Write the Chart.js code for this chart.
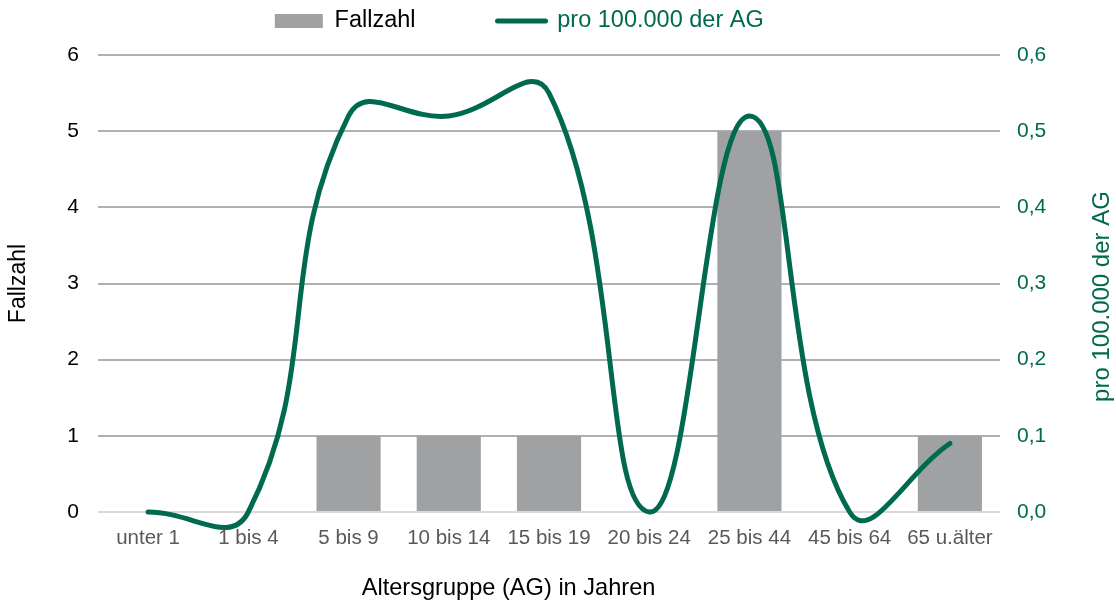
<!DOCTYPE html>
<html><head><meta charset="utf-8">
<script src="https://cdn.jsdelivr.net/npm/chart.js@4.4.1/dist/chart.umd.min.js"></script>
<style>html,body{margin:0;padding:0;background:#fff;overflow:hidden}#wrap{width:1116px;height:605px}</style>
</head><body><div id="wrap"><canvas id="c" width="1116" height="605"></canvas></div>
<script>
const categories = ['unter 1', '1 bis 4', '5 bis 9', '10 bis 14', '15 bis 19', '20 bis 24', '25 bis 44', '45 bis 64', '65 u.älter'];
const fallzahl = [0, 0, 1, 1, 1, 0, 5, 0, 1];
const pro100k = [0, 0, 0.52, 0.52, 0.55, 0, 0.52, 0, 0.09];
const leftTickLabels = ['0', '1', '2', '3', '4', '5', '6'];
const rightTickLabels = ['0,0', '0,1', '0,2', '0,3', '0,4', '0,5', '0,6'];
const seriesNames = ['Fallzahl', 'pro 100.000 der AG'];
const xTitle = 'Altersgruppe (AG) in Jahren';
const leftTitle = 'Fallzahl';
const rightTitle = 'pro 100.000 der AG';

const FONT = '"Liberation Sans", Arial, sans-serif';
const GREEN = '#006A4E';
const GREY_BAR = '#A0A1A3';

const axisTitles = {
  id: 'axisTitles',
  afterDraw(chart) {
    const ctx = chart.ctx;
    const W = chart.width, H = chart.height;
    ctx.save();
    ctx.textAlign = 'center';
    ctx.textBaseline = 'middle';
    ctx.fillStyle = '#000';
    ctx.font = '23.6px ' + FONT;
    ctx.fillText(xTitle, W * 0.4557, H - 17);
    ctx.translate(W - 14, (chart.chartArea.top + chart.chartArea.bottom) / 2 + 13);
    ctx.rotate(-Math.PI / 2);
    ctx.fillStyle = GREEN;
    ctx.font = '24px ' + FONT;
    ctx.fillText(rightTitle, 0, 0);
    ctx.restore();
  }
};

new Chart(document.getElementById('c'), {
  data: {
    labels: categories,
    datasets: [
      {
        type: 'bar', label: seriesNames[0], data: fallzahl, yAxisID: 'y',
        backgroundColor: GREY_BAR, borderWidth: 0,
        categoryPercentage: 1, barPercentage: 0.64, order: 1
      },
      {
        type: 'line', label: seriesNames[1], data: pro100k, yAxisID: 'y1',
        borderColor: GREEN, backgroundColor: GREEN, borderWidth: 5,
        pointRadius: 0, pointHoverRadius: 0, tension: 0.45, clip: false,
        borderCapStyle: 'round', borderJoinStyle: 'round', order: 0
      }
    ]
  },
  options: {
    responsive: false,
    animation: false,
    devicePixelRatio: 1,
    layout: { padding: { top: -72.75, left: -77.5, right: 0, bottom: 0 } },
    elements: { line: { capBezierPoints: false } },
    plugins: {
      tooltip: { enabled: false },
      title: { display: true, text: '', position: 'top', weight: 500, padding: 0, font: { size: 12.25, lineHeight: 1 } },
      legend: {
        display: true, position: 'top', align: 'center',
        labels: {
          usePointStyle: true, pointStyleWidth: 48, boxHeight: 14, padding: 82,
          font: { size: 23.5, family: FONT },
          generateLabels(chart) {
            return chart.data.datasets.map((ds, i) => ({
              text: ds.label,
              fillStyle: ds.type === 'line' ? ds.borderColor : ds.backgroundColor,
              strokeStyle: ds.type === 'line' ? ds.borderColor : ds.backgroundColor,
              lineWidth: ds.type === 'line' ? 5 : 0,
              lineCap: 'round',
              pointStyle: ds.type === 'line' ? 'line' : 'rect',
              fontColor: ds.type === 'line' ? GREEN : '#000',
              hidden: false,
              datasetIndex: i
            }));
          }
        }
      }
    },
    scales: {
      x: {
        type: 'category',
        offset: true,
        grid: { display: false, drawTicks: false },
        border: { display: false },
        ticks: { color: '#595959', font: { size: 20.5, family: FONT }, padding: 14, maxRotation: 0, autoSkip: false },
        afterFit(scale) { scale.height = 93; }
      },
      y: {
        type: 'linear', position: 'left', min: 0, max: 6,
        ticks: { stepSize: 1, color: '#000', font: { size: 21, family: FONT }, padding: 19,
          callback: (v, i) => leftTickLabels[i] },
        grid: { drawTicks: false, lineWidth: 2,
          color: (c) => (c.tick && c.tick.value === 0) ? '#D9D9D9' : '#B0B0B0' },
        border: { display: false },
        title: { display: true, text: leftTitle, color: '#000', font: { size: 23, family: FONT }, padding: { top: 82.7, bottom: 0 } },
        afterFit(scale) { scale.width = 175.5; }
      },
      y1: {
        type: 'linear', position: 'right', min: 0, max: 0.6,
        ticks: { stepSize: 0.1, color: GREEN, font: { size: 21, family: FONT }, padding: 17,
          callback: (v, i) => rightTickLabels[i] },
        grid: { drawOnChartArea: false, drawTicks: false },
        border: { display: false },
        afterFit(scale) { scale.width = 116; }
      }
    }
  },
  plugins: [axisTitles]
});
</script>
</body></html>
